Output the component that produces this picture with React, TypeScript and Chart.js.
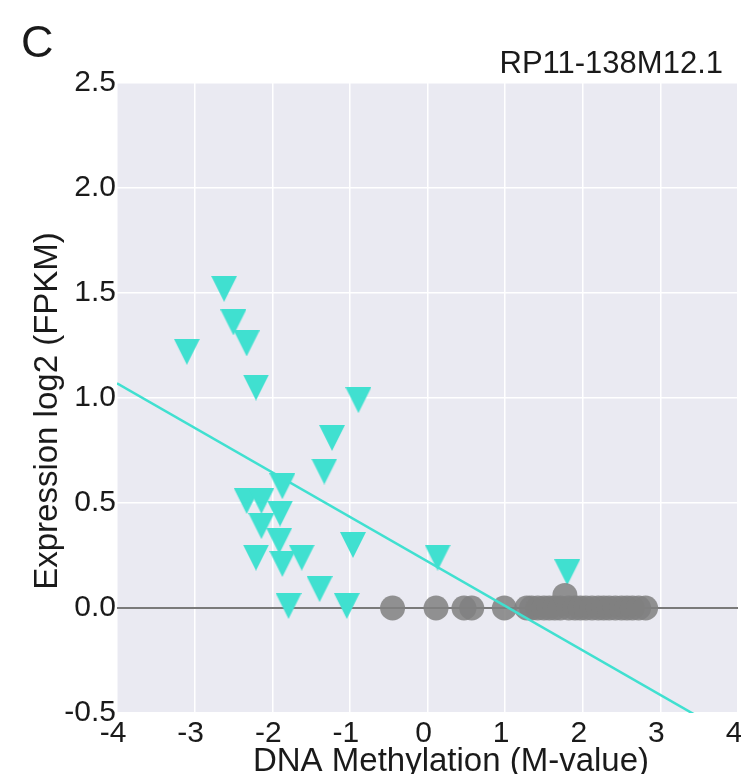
import React, { useEffect, useRef } from "react";
import { Chart, registerables } from "chart.js";

Chart.register(...registerables);

// ---- data ----
const panelLabel = "C";
const geneName = "RP11-138M12.1";
const xAxisTitle = "DNA Methylation (M-value)";
const yAxisTitle = "Expression log2 (FPKM)";

const xTickValues = [-4, -3, -2, -1, 0, 1, 2, 3, 4];
const yTickValues = [-0.5, 0, 0.5, 1, 1.5, 2, 2.5];

// turquoise triangles (expressed samples)
const triX = [-2.62, -2.5, -2.33, -3.1, -2.21, -0.89, -1.23, -1.33, -1.87, -2.33, -2.14, -1.9, -2.14, -1.91, -0.96, -2.21, -1.87, -1.62, -1.39, -1.79, -1.04, 0.13, 1.8];
const triY = [1.52, 1.36, 1.26, 1.22, 1.05, 0.99, 0.81, 0.65, 0.58, 0.51, 0.51, 0.45, 0.39, 0.32, 0.3, 0.24, 0.21, 0.24, 0.09, 0.01, 0.01, 0.24, 0.17];

// grey circles (non-expressed samples)
const circX = [-0.45, 0.11, 0.47, 0.57, 0.99, 1.28, 1.34, 1.42, 1.5, 1.57, 1.64, 1.71, 1.77, 1.82, 1.9, 1.97, 2.04, 2.12, 2.2, 2.27, 2.34, 2.42, 2.5, 2.57, 2.64, 2.72, 2.81];
const circY = [0, 0, 0, 0, 0, 0, 0, 0, 0, 0, 0, 0, 0.06, 0, 0, 0, 0, 0, 0, 0, 0, 0, 0, 0, 0, 0, 0];

// regression line
const fitX = [-4, 3.5];
const fitY = [1.07, -0.52];

const TURQ = "#40E0D0";
const FONT = "'Liberation Sans', Arial, Helvetica, sans-serif";

function makeTriangle(size: number, color: string) {
  const c = document.createElement("canvas");
  c.width = size;
  c.height = size;
  const g = c.getContext("2d")!;
  g.fillStyle = color;
  g.beginPath();
  g.moveTo(0, 0);
  g.lineTo(size, 0);
  g.lineTo(size / 2, size);
  g.closePath();
  g.fill();
  return c;
}

const bgPlugin = {
  id: "plotBg",
  beforeDraw(chart: any) {
    const { ctx, chartArea } = chart;
    ctx.save();
    ctx.fillStyle = "#EAEAF2";
    ctx.fillRect(chartArea.left, chartArea.top, chartArea.right - chartArea.left, chartArea.bottom - chartArea.top);
    ctx.restore();
  },
};

const textPlugin = {
  id: "texts",
  afterDraw(chart: any) {
    const { ctx } = chart;
    ctx.save();
    ctx.fillStyle = "#1a1a1a";
    ctx.textBaseline = "alphabetic";
    ctx.font = `45px ${FONT}`;
    ctx.textAlign = "left";
    ctx.fillText(panelLabel, 21, 57);
    ctx.font = `31px ${FONT}`;
    ctx.textAlign = "right";
    ctx.fillText(geneName, 723, 73);
    ctx.font = `33px ${FONT}`;
    ctx.textAlign = "center";
    ctx.fillText(xAxisTitle, 451, 771);
    ctx.translate(57, 411);
    ctx.rotate(-Math.PI / 2);
    ctx.fillText(yAxisTitle, 0, 0);
    ctx.restore();
  },
};

export default function App() {
  const ref = useRef<HTMLCanvasElement>(null);
  useEffect(() => {
    const canvas = ref.current!;
    const tri = makeTriangle(26, TURQ);
    const chart = new Chart(canvas, {
      type: "scatter",
      data: {
        datasets: [
          {
            label: "fit",
            type: "line",
            data: fitX.map((x, i) => ({ x, y: fitY[i] })),
            borderColor: TURQ,
            borderWidth: 2.5,
            pointRadius: 0,
            fill: false,
            clip: 0,
            order: 0,
          } as any,
          {
            label: "expressed",
            data: triX.map((x, i) => ({ x, y: triY[i] })),
            pointStyle: tri,
            pointRadius: 13,
            backgroundColor: TURQ,
            borderWidth: 0,
            order: 2,
          } as any,
          {
            label: "not expressed",
            data: circX.map((x, i) => ({ x, y: circY[i] })),
            pointStyle: "circle",
            pointRadius: 12.5,
            backgroundColor: "rgba(128,128,128,0.85)",
            borderWidth: 0,
            order: 1,
          },
        ],
      },
      options: {
        animation: false,
        responsive: false,
        maintainAspectRatio: false,
        devicePixelRatio: 1,
        layout: { autoPadding: false, padding: { top: 83, right: 3, left: 0, bottom: 0 } },
        plugins: { legend: { display: false }, tooltip: { enabled: false } },
        scales: {
          x: {
            type: "linear",
            min: xTickValues[0],
            max: xTickValues[xTickValues.length - 1],
            afterBuildTicks: (s: any) => {
              s.ticks = xTickValues.map((v) => ({ value: v }));
            },
            afterFit: (s: any) => {
              s.height = 61;
              s.paddingLeft = 0;
              s.paddingRight = 0;
            },
            border: { display: false },
            grid: { color: "#ffffff", lineWidth: 1.5, drawTicks: false },
            ticks: {
              padding: 3,
              labelOffset: -4,
              color: "#1a1a1a",
              font: { family: FONT, size: 30 },
              maxRotation: 0,
              autoSkip: false,
              callback: (v: any) => String(v),
            },
          },
          y: {
            type: "linear",
            min: yTickValues[0],
            max: yTickValues[yTickValues.length - 1],
            afterBuildTicks: (s: any) => {
              s.ticks = yTickValues.map((v) => ({ value: v }));
            },
            afterFit: (s: any) => {
              s.width = 117;
              s.paddingTop = 0;
              s.paddingBottom = 0;
            },
            border: { display: false },
            grid: {
              color: (c: any) => (c.tick && c.tick.value === 0 ? "#7a7a7a" : "#ffffff"),
              lineWidth: (c: any) => (c.tick && c.tick.value === 0 ? 2 : 1.5),
              drawTicks: false,
            },
            ticks: {
              padding: 1,
              color: "#1a1a1a",
              font: { family: FONT, size: 30 },
              autoSkip: false,
              callback: (v: any) => Number(v).toFixed(1),
            },
          },
        },
      },
      plugins: [bgPlugin, textPlugin],
    });
    return () => chart.destroy();
  }, []);
  return (
    <div style={{ position: "absolute", left: 0, top: 0, width: 741, height: 774 }}>
      <canvas ref={ref} width={741} height={774} style={{ width: 741, height: 774, display: "block" }} />
    </div>
  );
}
